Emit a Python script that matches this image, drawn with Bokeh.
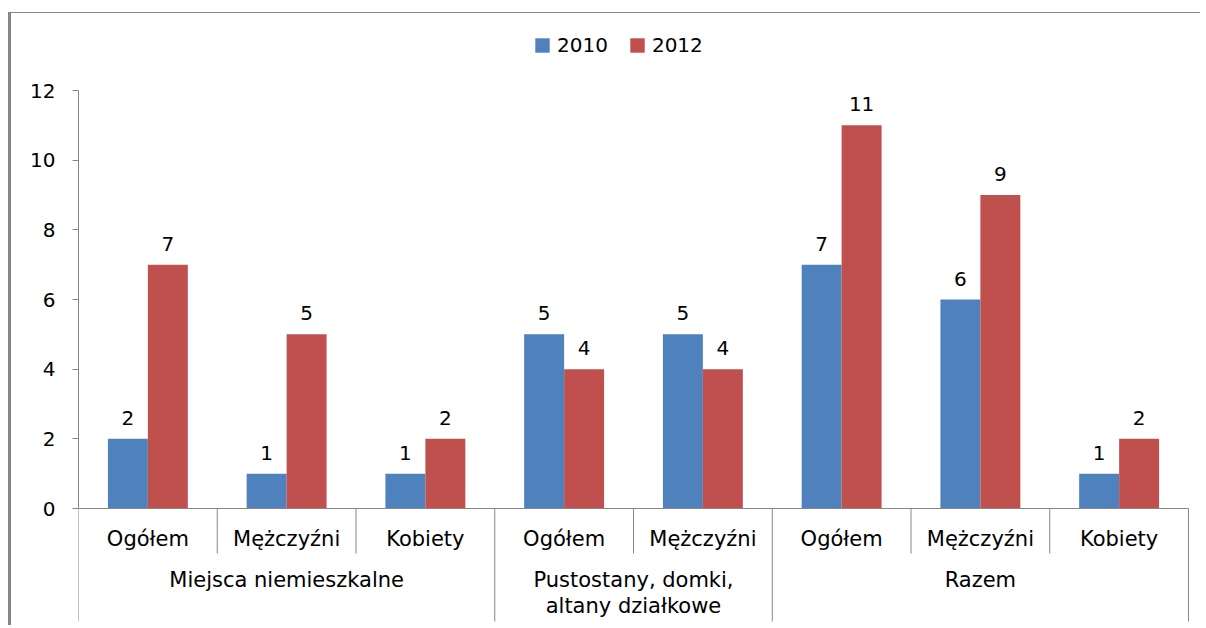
import numpy as np
from bokeh.plotting import figure
from bokeh.models import ColumnDataSource, Range1d, FixedTicker, Legend, LegendItem
from bokeh.core.properties import value
from bokeh.embed import file_html
from bokeh.resources import INLINE

# ---- data ----
categories = ["Ogółem", "Mężczyźni", "Kobiety",
              "Ogółem", "Mężczyźni",
              "Ogółem", "Mężczyźni", "Kobiety"]
groups = ["Miejsca niemieszkalne", "Pustostany, domki,\naltany działkowe", "Razem"]
group_sizes = [3, 2, 3]
series_names = ["2010", "2012"]
v2010 = [2, 1, 1, 5, 5, 7, 6, 1]
v2012 = [7, 5, 2, 4, 4, 11, 9, 2]
y_ticks = [0, 2, 4, 6, 8, 10, 12]

# ---- styles ----
BLUE = "#4F81BD"
RED = "#C0504D"
GRAY = "#868686"
FONT = "DejaVu Sans"
FS = "20px"
FS_CAT = "21px"

CANVAS_TOP = 13
CANVAS_LEFT = 11
W, H = 1192, 613
canvas_bottom = CANVAS_TOP + H
canvas_right = CANVAS_LEFT + W

n = len(categories)
centers = np.arange(n) + 0.5
bw = 0.288
off = 0.144

px_per_unit = 418 / 12.0
y_lo = -(canvas_bottom - 508) / px_per_unit
y_hi = 12 + (90 - CANVAS_TOP) / px_per_unit
x_hi = (canvas_right - 78) / 138.75

p = figure(width=W, height=H,
           x_range=Range1d(0, x_hi), y_range=Range1d(y_lo, y_hi),
           output_backend="svg", toolbar_location=None,
           min_border_left=78 - CANVAS_LEFT, min_border_right=0,
           min_border_top=0, min_border_bottom=0)
p.styles = {"border-left": "3px solid #878787",
            "border-top": "1px solid #878787",
            "margin-left": "8px",
            "margin-top": "12px"}
p.outline_line_color = None
p.grid.visible = False
p.xaxis.visible = False
p.background_fill_color = "white"
p.border_fill_color = "white"

yaxis = p.yaxis[0]
yaxis.ticker = FixedTicker(ticks=y_ticks)
yaxis.bounds = (0, 12)
yaxis.axis_line_color = GRAY
yaxis.major_tick_line_color = GRAY
yaxis.major_tick_out = 6
yaxis.major_tick_in = 0
yaxis.minor_tick_line_color = None
yaxis.major_label_standoff = 17
yaxis.major_label_text_font = FONT
yaxis.major_label_text_font_size = FS
yaxis.major_label_text_color = "black"

src = ColumnDataSource(dict(
    x1=centers - off, x2=centers + off,
    v1=v2010, v2=v2012,
    t1=[str(v) for v in v2010], t2=[str(v) for v in v2012],
))
r1 = p.vbar(x="x1", top="v1", bottom=0, width=bw, source=src,
            fill_color=BLUE, line_color=None)
r2 = p.vbar(x="x2", top="v2", bottom=0, width=bw, source=src,
            fill_color=RED, line_color=None)

for xk, vk, tk in (("x1", "v1", "t1"), ("x2", "v2", "t2")):
    p.text(x=xk, y=vk, text=tk, source=src, text_align="center",
           text_baseline="bottom", y_offset=-14,
           text_font=value(FONT), text_font_size=FS, text_color="black")

# category axis (drawn with segments in data space)
bounds = np.concatenate([[0], np.cumsum(group_sizes)])
all_b = np.arange(n + 1)
minor_b = [int(b) for b in all_b if b not in bounds]
minor_depth = -(553 - 508) / px_per_unit
major_depth = -(621 - 508) / px_per_unit

p.segment(x0=[0], y0=[0], x1=[n], y1=[0], line_color=GRAY, line_width=1)
p.segment(x0=minor_b, y0=[0] * len(minor_b), x1=minor_b,
          y1=[minor_depth] * len(minor_b), line_color=GRAY, line_width=1)
p.segment(x0=list(bounds), y0=[0] * len(bounds), x1=list(bounds),
          y1=[major_depth] * len(bounds), line_color=GRAY, line_width=1)

cat_y = -(538 - 508) / px_per_unit
p.text(x=list(centers), y=[cat_y] * n, text=categories,
       text_align="center", text_baseline="middle",
       text_font=value(FONT), text_font_size=FS_CAT, text_color="black")

g_centers = (bounds[:-1] + bounds[1:]) / 2.0
g_y = -(567 - 508) / px_per_unit
p.text(x=list(g_centers), y=[g_y] * len(groups), text=groups,
       text_align="center", text_baseline="top", text_line_height=1.1,
       text_font=value(FONT), text_font_size=FS_CAT, text_color="black")

legend = Legend(items=[LegendItem(label=series_names[0], renderers=[r1]),
                       LegendItem(label=series_names[1], renderers=[r2])],
                orientation="horizontal",
                location=(455, canvas_bottom - 57))
legend.glyph_width = 18
legend.glyph_height = 18
legend.label_standoff = 6
legend.spacing = 20
legend.padding = 0
legend.margin = 0
legend.border_line_color = None
legend.background_fill_alpha = 0
legend.label_text_font = FONT
legend.label_text_font_size = FS
legend.label_text_color = "black"
p.add_layout(legend, "center")

open("out.html", "w").write(file_html(p, INLINE))
